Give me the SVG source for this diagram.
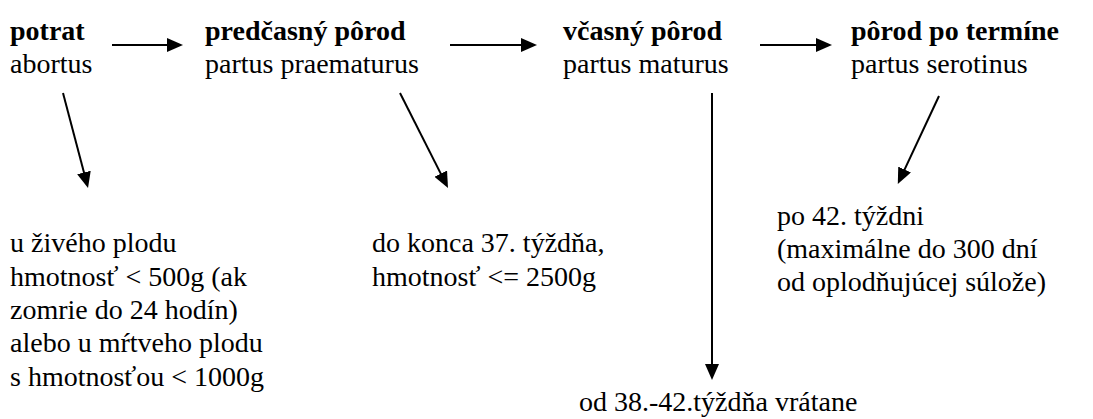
<svg xmlns="http://www.w3.org/2000/svg" width="1093" height="419" viewBox="0 0 1093 419">
  <defs>
    <marker id="head" markerUnits="userSpaceOnUse" markerWidth="16" markerHeight="14" refX="12" refY="7" orient="auto">
      <path d="M0,0 L16,7 L0,14 z" fill="#000"/>
    </marker>
  </defs>
  <rect width="1093" height="419" fill="#fff"/>

  <g id="potrat" font-family="serif" font-size="28">
    <text font-family="serif" font-weight="bold" x="10" y="40">potrat</text>
    <text font-family="serif" x="10" y="73">abortus</text>
  </g>
  <g id="predcasny" font-family="serif" font-size="28">
    <text font-family="serif" font-weight="bold" x="205" y="40">predčasný pôrod</text>
    <text font-family="serif" x="205" y="73">partus praematurus</text>
  </g>
  <g id="vcasny" font-family="serif" font-size="28">
    <text font-family="serif" font-weight="bold" x="563" y="40">včasný pôrod</text>
    <text font-family="serif" x="563" y="73">partus maturus</text>
  </g>
  <g id="po-termine" font-family="serif" font-size="28">
    <text font-family="serif" font-weight="bold" x="851" y="40">pôrod po termíne</text>
    <text font-family="serif" x="851" y="73">partus serotinus</text>
  </g>

  <g id="potrat-detail" font-family="serif" font-size="28">
    <text font-family="serif" x="10" y="252">u živého plodu</text>
    <text font-family="serif" x="10" y="286">hmotnosť &lt; 500g (ak</text>
    <text font-family="serif" x="10" y="319">zomrie do 24 hodín)</text>
    <text font-family="serif" x="10" y="352">alebo u mŕtveho plodu</text>
    <text font-family="serif" x="10" y="386">s hmotnosťou &lt; 1000g</text>
  </g>
  <g id="predcasny-detail" font-family="serif" font-size="28">
    <text font-family="serif" x="372" y="252">do konca 37. týždňa,</text>
    <text font-family="serif" x="372" y="286">hmotnosť &lt;= 2500g</text>
  </g>
  <g id="vcasny-detail" font-family="serif" font-size="28">
    <text font-family="serif" x="579" y="411">od 38.-42.týždňa vrátane</text>
  </g>
  <g id="po-termine-detail" font-family="serif" font-size="28">
    <text font-family="serif" x="777" y="225">po 42. týždni</text>
    <text font-family="serif" x="777" y="258">(maximálne do 300 dní</text>
    <text font-family="serif" x="777" y="291">od oplodňujúcej súlože)</text>
  </g>

  <g id="connectors" stroke="#000" stroke-width="2" fill="none" marker-end="url(#head)">
    <line x1="112" y1="45" x2="179" y2="45"/>
    <line x1="450" y1="45" x2="533" y2="45"/>
    <line x1="760" y1="45" x2="828" y2="45"/>
    <line x1="63" y1="93" x2="87" y2="184.1"/>
    <line x1="400" y1="93" x2="446.2" y2="184.4"/>
    <line x1="712" y1="93" x2="712" y2="376"/>
    <line x1="939" y1="96" x2="899.5" y2="180.4"/>
  </g>
</svg>
